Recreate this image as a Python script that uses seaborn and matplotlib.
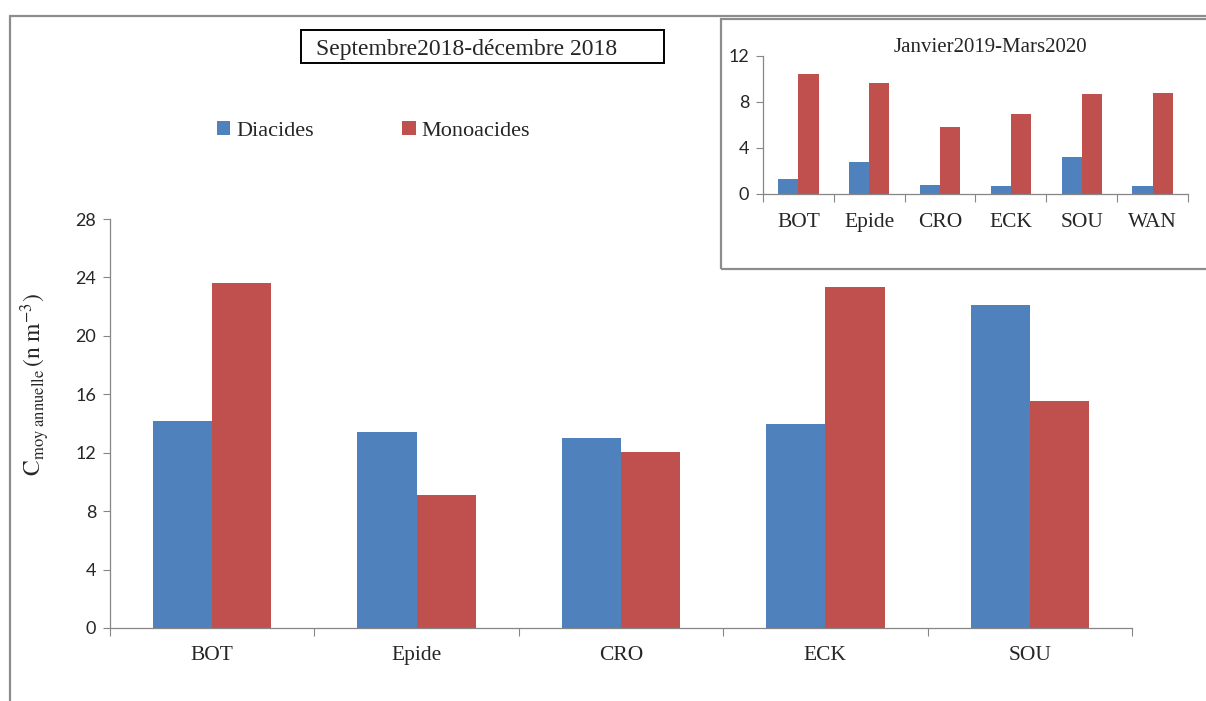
import pandas as pd
import matplotlib.pyplot as plt
import seaborn as sns
from matplotlib.patches import Rectangle, Patch
from matplotlib.lines import Line2D

# ---------------------------
# Data
# ---------------------------
sites_main = ["BOT", "Epide", "CRO", "ECK", "SOU"]
diacides_main = [14.2, 13.4, 13.0, 14.0, 22.1]
monoacides_main = [23.6, 9.1, 12.05, 23.35, 15.55]

sites_inset = ["BOT", "Epide", "CRO", "ECK", "SOU", "WAN"]
diacides_inset = [1.33, 2.75, 0.78, 0.69, 3.18, 0.69]
monoacides_inset = [10.4, 9.68, 5.81, 6.94, 8.67, 8.76]

series_names = ["Diacides", "Monoacides"]
colors = ["#4F81BD", "#C0504D"]
main_yticks = [0, 4, 8, 12, 16, 20, 24, 28]
inset_yticks = [0, 4, 8, 12]

main_title = "Septembre2018-décembre 2018"
inset_title = "Janvier2019-Mars2020"
ylabel = r"$\mathrm{C_{moy\ annuelle}\,(n\ m^{-3})}$"

sns.set_theme(style="white")
plt.rcParams["font.family"] = ["Liberation Serif", "DejaVu Sans"]
plt.rcParams["mathtext.fontset"] = "stix"

W, H = 1206, 701
gray = "#868686"


def fx(x):
    return x / W


def fy(y):
    return 1 - y / H


def long_df(sites, a, b):
    df = pd.DataFrame({"site": sites, series_names[0]: a, series_names[1]: b})
    return df.melt(id_vars="site", var_name="serie", value_name="val")


def style_axis(ax, yticks, ymax, tick_fs, lab_fs, lab_pad):
    labels = [t.get_text() for t in ax.get_xticklabels()]
    n = len(labels)
    ax.set_xlim(-0.5, n - 0.5)
    ax.set_ylim(0, ymax)
    ax.set_yticks(yticks)
    ax.set_yticklabels([str(t) for t in yticks])
    ax.set_xticks([i for i in range(n)], minor=True)
    ax.set_xticklabels(labels, minor=True)
    ax.set_xticks([i - 0.5 for i in range(n + 1)])
    ax.set_xticklabels([])
    ax.tick_params(axis="x", which="major", length=6, width=0.8, color=gray, direction="out", bottom=True)
    ax.tick_params(axis="x", which="minor", length=0, pad=lab_pad, bottom=True,
                   labelsize=lab_fs, labelfontfamily="Liberation Serif")
    ax.tick_params(axis="y", length=5, width=0.8, color=gray, direction="out", left=True, pad=5,
                   labelsize=tick_fs, labelfontfamily="Lato")
    for s in ["top", "right"]:
        ax.spines[s].set_visible(False)
    for s in ["left", "bottom"]:
        ax.spines[s].set_color(gray)
        ax.spines[s].set_linewidth(0.9)
    ax.set_xlabel("")
    ax.set_ylabel("")
    ax.set_facecolor("none")
    leg = ax.get_legend()
    if leg is not None:
        leg.remove()


fig = plt.figure(figsize=(W / 100, H / 100), dpi=100)

# outer frame lines
fig.add_artist(Line2D([fx(10), fx(10)], [fy(16), 0], transform=fig.transFigure, color="#8c8c8c", lw=1.6))
fig.add_artist(Line2D([fx(10), 1], [fy(16), fy(16)], transform=fig.transFigure, color="#8c8c8c", lw=1.6))

# ---------------------------
# Main chart
# ---------------------------
ax = fig.add_axes([fx(110), fy(628), fx(1132) - fx(110), fy(219) - fy(628)])
sns.barplot(data=long_df(sites_main, diacides_main, monoacides_main), x="site", y="val",
            hue="serie", palette=colors, width=0.58, gap=0, linewidth=0, saturation=1, ax=ax)
style_axis(ax, main_yticks, 28, 13, 15.5, 13)
fig.text(fx(35), fy(384), ylabel, fontsize=17, rotation=90, ha="center", va="center")

# title box
fig.add_artist(Rectangle((fx(301), fy(63)), fx(664) - fx(301), fy(30) - fy(63),
                         transform=fig.transFigure, fill=False, edgecolor="black", lw=1.4))
fig.text(fx(316), fy(50), main_title, fontsize=17, ha="left", va="center")

# legend
handles = [Patch(facecolor=c, edgecolor="none") for c in colors]
fig.legend(handles, series_names, loc="center left", bbox_to_anchor=(fx(197), fy(131)), ncol=2,
           frameon=False, fontsize=16, handlelength=0.6, handleheight=0.6, handletextpad=0.25,
           columnspacing=4.0)

# ---------------------------
# Inset chart
# ---------------------------
fig.add_artist(Rectangle((fx(721), fy(269)), 1, fy(19) - fy(269),
                         transform=fig.transFigure, fill=False, edgecolor="#8c8c8c", lw=1.6))
ax2 = fig.add_axes([fx(763), fy(194), fx(1188) - fx(763), fy(56) - fy(194)])
sns.barplot(data=long_df(sites_inset, diacides_inset, monoacides_inset), x="site", y="val",
            hue="serie", palette=colors, width=0.57, gap=0, linewidth=0, saturation=1, ax=ax2)
style_axis(ax2, inset_yticks, 12, 13, 15.5, 14)
fig.text(fx(990), fy(47), inset_title, fontsize=15, ha="center", va="center")

fig.savefig("out.png", dpi=100)
